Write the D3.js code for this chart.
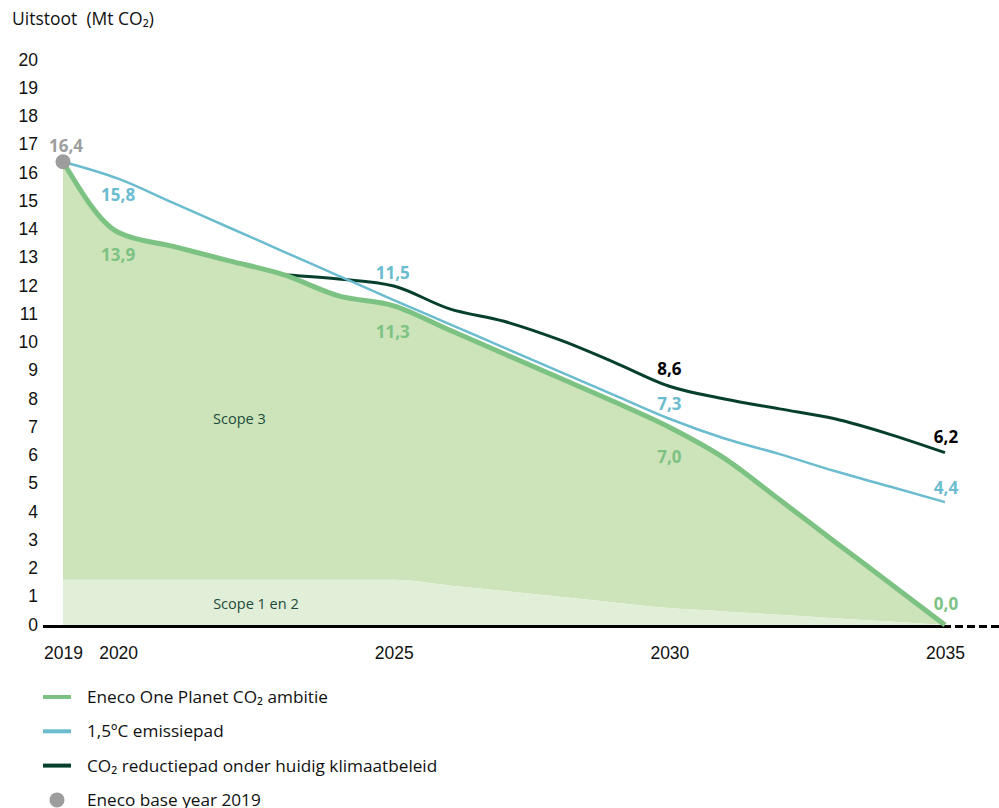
<!DOCTYPE html>
<html>
<head>
<meta charset="utf-8">
<script src="https://cdn.jsdelivr.net/npm/d3@7"></script>
<style>
  body { margin: 0; background: #fff; }
  svg { display: block; font-family: "Open Sans", "Noto Sans", sans-serif; }
</style>
</head>
<body>
<div id="chart"></div>
<script>
'use strict';

var w = 999;
var h = 808;

// years on the x axis
var years = [2019, 2020, 2021, 2022, 2023, 2024, 2025, 2026, 2027, 2028, 2029, 2030, 2031, 2032, 2033, 2034, 2035];
var yearTicks = [2019, 2020, 2025, 2030, 2035];
var valueTicks = d3.range(0, 21);

// Eneco One Planet CO2 ambitie (Mt)
var ambition = [16.4, 13.9, 13.4, 12.9, 12.4, 11.65, 11.3, 10.45, 9.6, 8.75, 7.9, 7.0, 5.9, 4.43, 2.95, 1.48, 0.0];
// scope 1 en 2 part of the ambition
var scope12 = [1.6, 1.6, 1.6, 1.6, 1.6, 1.6, 1.6, 1.4, 1.2, 1.0, 0.8, 0.6, 0.48, 0.36, 0.24, 0.12, 0.0];
// 1,5 graden emissiepad
var paris = [16.4, 15.8, 14.94, 14.08, 13.22, 12.36, 11.5, 10.66, 9.82, 8.98, 8.14, 7.3, 6.6, 6.05, 5.45, 4.9, 4.35];
// reductiepad onder huidig klimaatbeleid (from 2023)
var policyYears = [2023, 2024, 2025, 2026, 2027, 2028, 2029, 2030, 2031, 2032, 2033, 2034, 2035];
var policy = [12.4, 12.25, 12.0, 11.2, 10.75, 10.1, 9.3, 8.45, 8.0, 7.65, 7.3, 6.75, 6.1];

var baseYear = 2019;
var baseValue = 16.4;

// value labels
var labelYears = [2019, 2020, 2020, 2025, 2025, 2030, 2030, 2030, 2035, 2035, 2035];
var labelSeries = ['base', 'paris', 'ambition', 'paris', 'ambition', 'policy', 'paris', 'ambition', 'policy', 'paris', 'ambition'];
var labelTexts = ['16,4', '15,8', '13,9', '11,5', '11,3', '8,6', '7,3', '7,0', '6,2', '4,4', '0,0'];

var legendItems = ['Eneco One Planet CO\u2082 ambitie', '1,5\u00baC emissiepad', 'CO\u2082 reductiepad onder huidig klimaatbeleid', 'Eneco base year 2019'];

var colors = {
	ambition: '#7cc283',
	scope3: '#cde4ba',
	scope12: '#e2efd8',
	paris: '#6cbccf',
	policy: '#073f2f',
	base: '#9d9d9d',
	scopeText: '#1b4a3a'
};

var x = d3.scaleLinear().domain([2019, 2035]).range([63, 945]);
var y = d3.scaleLinear().domain([0, 20]).range([625, 60]);

var svg = d3.select('#chart').append('svg')
	.attr('width', w)
	.attr('height', h);

// axis title
svg.append('text')
	.attr('x', 12)
	.attr('y', 25)
	.attr('font-size', 17.5)
	.attr('fill', '#111')
	.style('white-space', 'pre')
	.text('Uitstoot  (Mt CO\u2082)');

// y tick labels
var yAxis = d3.axisLeft(y).tickValues(valueTicks).tickSize(0).tickPadding(0);
var yg = svg.append('g').attr('transform', 'translate(38,-0.5)').call(yAxis);
yg.select('.domain').remove();
yg.selectAll('text').attr('font-size', 17.5).attr('fill', '#111').attr('font-family', null);

// areas
var areaTop = d3.area()
	.x(function(d, i) { return x(years[i]); })
	.y0(function(d, i) { return y(scope12[i]); })
	.y1(function(d) { return y(d); })
	.curve(d3.curveMonotoneX);

svg.append('path')
	.datum(ambition)
	.attr('d', areaTop)
	.attr('fill', colors.scope3);

var areaLow = d3.area()
	.x(function(d, i) { return x(years[i]); })
	.y0(y(0))
	.y1(function(d) { return y(d); })
	.curve(d3.curveMonotoneX);

svg.append('path')
	.datum(scope12)
	.attr('d', areaLow)
	.attr('fill', colors.scope12);

svg.append('text')
	.attr('x', x(2022.2))
	.attr('y', y(7.1))
	.attr('text-anchor', 'middle')
	.attr('font-size', 14.5)
	.attr('fill', colors.scopeText)
	.text('Scope 3');

svg.append('text')
	.attr('x', x(2022.5))
	.attr('y', y(0.55))
	.attr('text-anchor', 'middle')
	.attr('font-size', 14.5)
	.attr('fill', colors.scopeText)
	.text('Scope 1 en 2');

// x axis line
svg.append('line')
	.attr('x1', 43).attr('x2', x(2035) + 6)
	.attr('y1', y(0) + 1.5).attr('y2', y(0) + 1.5)
	.attr('stroke', '#000')
	.attr('stroke-width', 3);

svg.append('line')
	.attr('x1', x(2035) + 10).attr('x2', w)
	.attr('y1', y(0) + 1.5).attr('y2', y(0) + 1.5)
	.attr('stroke', '#000')
	.attr('stroke-width', 3)
	.attr('stroke-dasharray', '8,4');

var xAxis = d3.axisBottom(x).tickValues(yearTicks).tickFormat(d3.format('d')).tickSize(0).tickPadding(0);
var xg = svg.append('g').attr('transform', 'translate(0,' + (y(0) + 22) + ')').call(xAxis);
xg.select('.domain').remove();
xg.selectAll('text').attr('font-size', 17.5).attr('fill', '#111').attr('font-family', null);

// lines
var makeLine = function(xs) {
	return d3.line()
		.x(function(d, i) { return x(xs[i]); })
		.y(function(d) { return y(d); })
		.curve(d3.curveMonotoneX);
};

svg.append('path')
	.datum(policy)
	.attr('d', makeLine(policyYears))
	.attr('fill', 'none')
	.attr('stroke', colors.policy)
	.attr('stroke-width', 3);

svg.append('path')
	.datum(ambition)
	.attr('d', makeLine(years))
	.attr('fill', 'none')
	.attr('stroke', colors.ambition)
	.attr('stroke-width', 5)
	.attr('stroke-linejoin', 'round');

svg.append('path')
	.datum(paris)
	.attr('d', makeLine(years))
	.attr('fill', 'none')
	.attr('stroke', colors.paris)
	.attr('stroke-width', 2.5);

svg.append('circle')
	.attr('cx', x(baseYear))
	.attr('cy', y(baseValue))
	.attr('r', 7.5)
	.attr('fill', colors.base);

// value labels
var seriesData = { ambition: ambition, paris: paris, base: [baseValue] };
var labelShift = { base: [3, -10], ambition: [0, 29], paris: [0, 22], policy: [0, -11] };
var labelShiftEnd = { ambition: [1, -15], paris: [1, -8], policy: [1, -10] };
var labelColor = { base: colors.base, ambition: colors.ambition, paris: colors.paris, policy: '#000' };

labelTexts.forEach(function(t, i) {
	var s = labelSeries[i];
	var yr = labelYears[i];
	var v;
	if (s === 'policy') {
		v = policy[policyYears.indexOf(yr)];
	} else if (s === 'base') {
		v = baseValue;
	} else {
		v = seriesData[s][years.indexOf(yr)];
	}
	var sh = labelShift[s];
	if (yr === 2035) sh = labelShiftEnd[s];
	if (yr === 2025 && s === 'paris') sh = [-1, -21];
	if (yr === 2025 && s === 'ambition') sh = [-1, 32];
	if (yr === 2030 && s === 'paris') sh = [0, -9];
	if (yr === 2030 && s === 'ambition') sh = [0, 36];
	if (yr === 2030 && s === 'policy') sh = [0, -11];
	svg.append('text')
		.attr('x', x(yr) + sh[0])
		.attr('y', y(v) + sh[1])
		.attr('text-anchor', 'middle')
		.attr('font-size', 17)
		.attr('font-weight', 'bold')
		.attr('fill', labelColor[s])
		.text(t);
});

// legend
var legend = svg.append('g');
var legendColors = [colors.ambition, colors.paris, colors.policy, colors.base];
legendItems.forEach(function(t, i) {
	var ly = 697 + i * 34.3;
	if (i < 3) {
		legend.append('line')
			.attr('x1', 43).attr('x2', 71)
			.attr('y1', ly).attr('y2', ly)
			.attr('stroke', legendColors[i])
			.attr('stroke-width', 4);
	} else {
		legend.append('circle')
			.attr('cx', 57).attr('cy', ly)
			.attr('r', 7.5)
			.attr('fill', legendColors[i]);
	}
	legend.append('text')
		.attr('x', 87)
		.attr('y', ly + 6)
		.attr('font-size', 17.2)
		.attr('fill', '#111')
		.text(t);
});
</script>
</body>
</html>
